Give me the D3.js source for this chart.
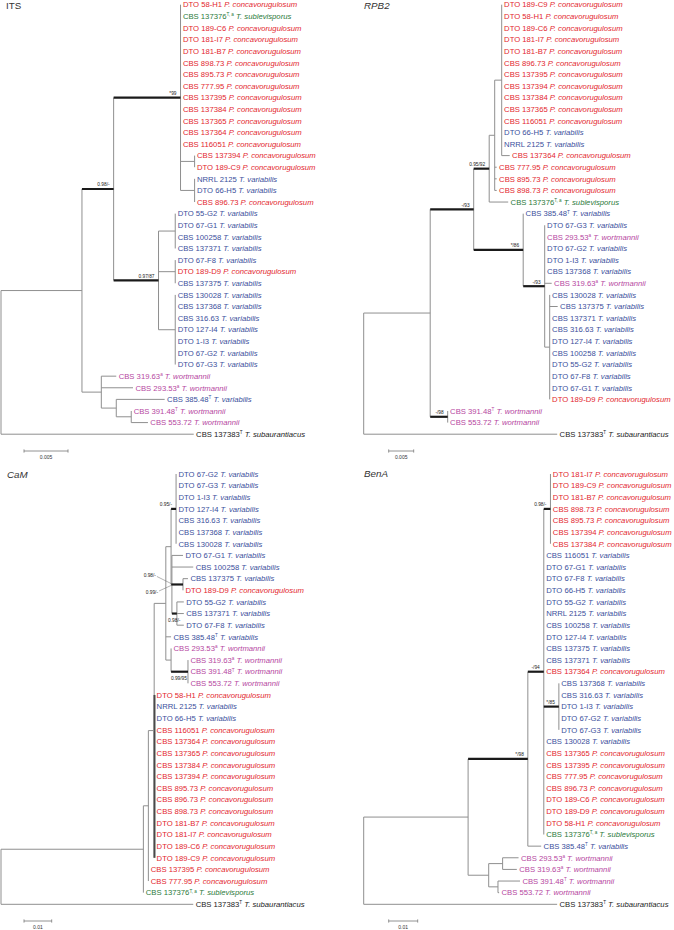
<!DOCTYPE html>
<html><head><meta charset="utf-8">
<script src="https://cdn.jsdelivr.net/npm/d3@7"></script>
<style>body{margin:0;background:#fff} svg{display:block;font-family:"Liberation Sans",Arial,Helvetica,sans-serif}</style>
</head><body><svg id="chart" width="674" height="930"></svg>
<script>
// ---------- DATA ----------
const speciesNames = {c:"P. concavorugulosum", s:"T. sublevisporus", v:"T. variabilis", w:"T. wortmannii", a:"T. subaurantiacus"};
const strainSups = {"CBS 137376":"T, a","CBS 319.63":"a","CBS 293.53":"a","CBS 385.48":"T","CBS 391.48":"T","CBS 137383":"T"};

const itsStrains = ["DTO 58-H1","CBS 137376","DTO 189-C6","DTO 181-I7","DTO 181-B7","CBS 898.73","CBS 895.73","CBS 777.95","CBS 137395","CBS 137384","CBS 137365","CBS 137364","CBS 116051","CBS 137394","DTO 189-C9","NRRL 2125","DTO 66-H5","CBS 896.73","DTO 55-G2","DTO 67-G1","CBS 100258","CBS 137371","DTO 67-F8","DTO 189-D9","CBS 137375","CBS 130028","CBS 137368","CBS 316.63","DTO 127-I4","DTO 1-I3","DTO 67-G2","DTO 67-G3","CBS 319.63","CBS 293.53","CBS 385.48","CBS 391.48","CBS 553.72","CBS 137383"];
const itsSpecies = ["c","s","c","c","c","c","c","c","c","c","c","c","c","c","c","v","v","c","v","v","v","v","v","c","v","v","v","v","v","v","v","v","w","w","v","w","w","a"];
const itsNewick = "((((0:0,1:0,2:0,3:0,4:0,5:0,6:0,7:0,8:0,9:0,10:0,11:0,12:0,(13:0,14:0):0.0016,(15:0,16:0,17:0):0.0016)*99:0.0076,((18:0,19:0,20:0,21:0):0.0019,(22:0,23:0,24:0):0.0019,(25:0,26:0,27:0,28:0,29:0,30:0,31:0):0.0019)0.97/87:0.0051)0.98/-:0.0036,(32:0.0017,33:0.0036,(34:0.0055,(35:0,36:0.0019):0.0017):0.0017):0.0022):0.0092,37:0.0219);";

const rpb2Strains = ["DTO 189-C9","DTO 58-H1","DTO 189-C6","DTO 181-I7","DTO 181-B7","CBS 896.73","CBS 137395","CBS 137394","CBS 137384","CBS 137365","CBS 116051","DTO 66-H5","NRRL 2125","CBS 137364","CBS 777.95","CBS 895.73","CBS 898.73","CBS 137376","CBS 385.48","DTO 67-G3","CBS 293.53","DTO 67-G2","DTO 1-I3","CBS 137368","CBS 319.63","CBS 130028","CBS 137375","CBS 137371","CBS 316.63","DTO 127-I4","CBS 100258","DTO 55-G2","DTO 67-F8","DTO 67-G1","DTO 189-D9","CBS 391.48","CBS 553.72","CBS 137383"];
const rpb2Species = ["c","c","c","c","c","c","c","c","c","c","c","v","v","c","c","c","c","s","v","v","w","v","v","v","w","v","v","v","v","v","v","v","v","v","c","w","w","a"];
const rpb2Newick = "((((((0:0,1:0,2:0,3:0,4:0,5:0,6:0,7:0,8:0,9:0,10:0,11:0,12:0,13:0.0016):0.0014,14:0.0004,15:0.0004,16:0.0004):0.0011,17:0.0038)0.95/92:0.0031,(18:0,(19:0,20:0,21:0,22:0,23:0,24:0.0014,(25:0,26:0.0016,27:0,28:0,29:0,30:0,31:0,32:0,33:0,34:0):0.001)-/93:0.0043)*/86:0.0099)-/93:0.0087,(35:0,36:0)-/98:0.0035):0.0133,37:0.0387);";

const camStrains = ["DTO 67-G2","DTO 67-G3","DTO 1-I3","DTO 127-I4","CBS 316.63","CBS 137368","CBS 130028","DTO 67-G1","CBS 100258","CBS 137375","DTO 189-D9","DTO 55-G2","CBS 137371","DTO 67-F8","CBS 385.48","CBS 293.53","CBS 319.63","CBS 391.48","CBS 553.72","DTO 58-H1","NRRL 2125","DTO 66-H5","CBS 116051","CBS 137364","CBS 137365","CBS 137384","CBS 137394","CBS 895.73","CBS 896.73","CBS 898.73","DTO 181-B7","DTO 181-I7","DTO 189-C6","DTO 189-C9","CBS 137395","CBS 777.95","CBS 137376","CBS 137383"];
const camSpecies = ["v","v","v","v","v","v","v","v","v","v","c","v","v","v","v","w","w","w","w","c","v","v","c","c","c","c","c","c","c","c","c","c","c","c","c","c","s","a"];
const camNewick = "(((((((0:0,1:0,2:0,3:0,4:0,5:0,6:0)0.95/-:0.0018,(7:0.004,8:0.0077,(9:0.0018,10:0)0.98/-:0.004,(11:0.0025,12:0.0025,13:0.0025)0.98/-:0.0018)0.99/-:0.0003):0.0019,14:0.0019,(15:0,(16:0,17:0,18:0)0.99/95:0.0061):0.0019):0.0042,19:0,20:0,21:0,22:0,23:0,24:0,25:0,26:0,27:0,28:0,29:0,30:0,31:0,32:0,33:0):0.0021,34:0,35:0):0.0018,36:0):0.0514,37:0.0694);";

const benaStrains = ["DTO 181-I7","DTO 189-C9","DTO 181-B7","CBS 898.73","CBS 895.73","CBS 137394","CBS 137384","CBS 116051","DTO 67-G1","DTO 67-F8","DTO 66-H5","DTO 55-G2","NRRL 2125","CBS 100258","DTO 127-I4","CBS 137375","CBS 137371","CBS 137364","CBS 137368","CBS 316.63","DTO 1-I3","DTO 67-G2","DTO 67-G3","CBS 130028","CBS 137365","CBS 137395","CBS 777.95","CBS 896.73","DTO 189-C6","DTO 189-D9","DTO 58-H1","CBS 137376","CBS 385.48","CBS 293.53","CBS 319.63","CBS 391.48","CBS 553.72","CBS 137383"];
const benaSpecies = ["c","c","c","c","c","c","c","v","v","v","v","v","v","v","v","v","v","c","v","v","v","v","v","v","c","c","c","c","c","c","c","s","v","w","w","w","w","a"];
const benaNewick = "(((((0:0,1:0,2:0,3:0,4:0,5:0,6:0)0.98/-:0.0023,7:0,8:0,9:0,10:0,11:0,12:0,13:0,14:0,15:0,16:0,17:0,(18:0,19:0,20:0,21:0,22:0)*/85:0.0052,23:0,24:0,25:0,26:0,27:0,28:0,29:0,30:0,31:0)-/94:0.0055,32:0.0046)*/98:0.0206,((33:0.0055,34:0.0049):0.0048,(35:0.0076,36:0.0004):0.0032):0.0071):0.036,37:0.0667);";

const panelTitles = ["ITS","RPB2","CaM","BenA"];
const scaleBarValues = [0.005, 0.005, 0.01, 0.01];
const scaleBarLabels = ["0.005","0.005","0.01","0.01"];

// ---------- STYLE / LAYOUT ----------
const colors = {c:"#e3262e", s:"#2b7a3b", v:"#3b4f9c", w:"#b6479f", a:"#222222"};
const thinColor = "#8f8f8f", boldColor = "#1a1a1a";
const layout = [
  {x0:1,     px:8800, y0:4.7, y1:434.2, titleX:6,   titleY:8.6,   italic:false, barX:24,    barY:451, place:{}},
  {x0:363.7, px:5000, y0:4.7, y1:434.2, titleX:364, titleY:8.6,   italic:true,  barX:388.7, barY:451, place:{}},
  {x0:1,     px:2770, y0:474, y1:904.3, titleX:7,   titleY:477.6, italic:true,  barX:24,    barY:921,
    darkVertical:[19, 33],
    place:{1:{type:"leader", tx:-13, ty:10, lx1:-12, ly1:6.5, lx2:0, ly2:1},
           2:{type:"leader", tx:-16, ty:-7.5, lx1:-15, ly1:-8, lx2:0, ly2:-0.5},
           3:{type:"node", tx:3.5, ty:8},
           4:{type:"node", tx:-1, ty:8}}},
  {x0:363.7, px:2900, y0:474, y1:904.3, titleX:364, titleY:476.8, italic:true,  barX:388.7, barY:921, place:{}}
];
const treeData = [
  [itsNewick, itsStrains, itsSpecies],
  [rpb2Newick, rpb2Strains, rpb2Species],
  [camNewick, camStrains, camSpecies],
  [benaNewick, benaStrains, benaSpecies]
];

function parseNewick(s){
  let i = 0;
  function node(){
    const n = {children:null, label:"", len:0};
    if (s[i] === "("){
      n.children = []; i++;
      n.children.push(node());
      while (s[i] === ","){ i++; n.children.push(node()); }
      i++;
    }
    let lab = "";
    while (i < s.length && !":,();".includes(s[i])) lab += s[i++];
    n.label = lab;
    if (s[i] === ":"){
      i++; let num = "";
      while (i < s.length && !",();".includes(s[i])) num += s[i++];
      n.len = +num;
    }
    return n;
  }
  return node();
}

const svg = d3.select("#chart");
svg.append("rect").attr("width",674).attr("height",930).attr("fill","#fff");

treeData.forEach(([nwk, strains, species], p) => {
  const L = layout[p];
  const g = svg.append("g");
  const root = d3.hierarchy(parseNewick(nwk), d => d.children);
  root.eachBefore(d => { d.dist = d.parent ? d.parent.dist + d.data.len : 0; });
  const x = d3.scaleLinear().domain([0, 1]).range([L.x0, L.x0 + L.px]);
  const y = d3.scaleLinear().domain([0, strains.length - 1]).range([L.y0, L.y1]);
  root.eachAfter(d => {
    if (d.children) d.py = (d.children[0].py + d.children[d.children.length-1].py) / 2;
    else d.py = y(+d.data.label);
  });
  const nodes = [];
  root.eachBefore(d => nodes.push(d));
  // verticals
  nodes.filter(d => d.children).forEach(d => {
    g.append("line").attr("x1", x(d.dist)).attr("x2", x(d.dist))
      .attr("y1", d.children[0].py).attr("y2", d.children[d.children.length-1].py)
      .attr("stroke", thinColor).attr("stroke-width", 1);
  });
  // darker segment over a run of zero-length leaves
  if (L.darkVertical){
    const la = root.leaves().find(d => +d.data.label === L.darkVertical[0]);
    const lb = root.leaves().find(d => +d.data.label === L.darkVertical[1]);
    const anc = new Set(la.ancestors());
    const dn = lb.ancestors().find(a => anc.has(a));
    g.append("line").attr("x1", x(dn.dist) + 0.3).attr("x2", x(dn.dist) + 0.3)
      .attr("y1", la.py).attr("y2", lb.py).attr("stroke", "#4a4a4a").attr("stroke-width", 2);
  }
  // horizontals thin
  nodes.filter(d => d.parent && !(d.children && d.data.label)).forEach(d => {
    if (d.data.len <= 0) return;
    g.append("line").attr("x1", x(d.parent.dist)).attr("x2", x(d.dist))
      .attr("y1", d.py).attr("y2", d.py).attr("stroke", thinColor).attr("stroke-width", 1);
  });
  // bold supported branches + support labels
  let si = 0;
  nodes.filter(d => d.parent && d.children && d.data.label).forEach(d => {
    const xa = x(d.parent.dist), xb = x(d.dist);
    g.append("line").attr("x1", xa).attr("x2", Math.max(xb, xa + 0.6))
      .attr("y1", d.py).attr("y2", d.py).attr("stroke", boldColor).attr("stroke-width", 2.2);
    const pl = L.place[si] || {type:"node", tx:-4, ty:-2.6};
    const t = g.append("text").attr("font-size", 4.8).attr("fill", "#222").attr("text-anchor", "end").text(d.data.label);
    if (pl.type === "leader"){
      t.attr("x", xa + pl.tx).attr("y", d.py + pl.ty);
      g.append("line").attr("x1", xa + pl.lx1).attr("y1", d.py + pl.ly1).attr("x2", xa + pl.lx2).attr("y2", d.py + pl.ly2)
        .attr("stroke", "#666").attr("stroke-width", 0.5);
    } else {
      t.attr("x", xb + pl.tx).attr("y", d.py + pl.ty);
    }
    si++;
  });
  // leaf labels
  root.leaves().forEach(d => {
    const idx = +d.data.label, strain = strains[idx], sp = species[idx], sup = strainSups[strain];
    const t = g.append("text").attr("x", x(d.dist) + 2.4).attr("y", d.py).attr("dy", "0.36em")
      .attr("font-size", 7.7).attr("fill", colors[sp]);
    t.append("tspan").text(strain);
    if (sup) t.append("tspan").attr("font-size", 4.6).attr("dy", -2.8).text(sup);
    t.append("tspan").attr("font-style", "italic").attr("dy", sup ? 2.8 : null).text(" " + speciesNames[sp]);
  });
  // title
  g.append("text").attr("x", L.titleX).attr("y", L.titleY).attr("font-size", 9.8)
    .attr("font-style", L.italic ? "italic" : "normal").attr("fill", "#333").text(panelTitles[p]);
  // scale bar
  const bw = x(scaleBarValues[p]) - x(0);
  const bar = g.append("g").attr("stroke", "#777").attr("stroke-width", 0.8);
  bar.append("line").attr("x1", L.barX).attr("x2", L.barX + bw).attr("y1", L.barY).attr("y2", L.barY);
  bar.append("line").attr("x1", L.barX).attr("x2", L.barX).attr("y1", L.barY - 1.6).attr("y2", L.barY + 1.6);
  bar.append("line").attr("x1", L.barX + bw).attr("x2", L.barX + bw).attr("y1", L.barY - 1.6).attr("y2", L.barY + 1.6);
  g.append("text").attr("x", L.barX + bw / 2).attr("y", L.barY + 7.8).attr("text-anchor", "middle")
    .attr("font-size", 5).attr("fill", "#333").text(scaleBarLabels[p]);
});
</script></body></html>
